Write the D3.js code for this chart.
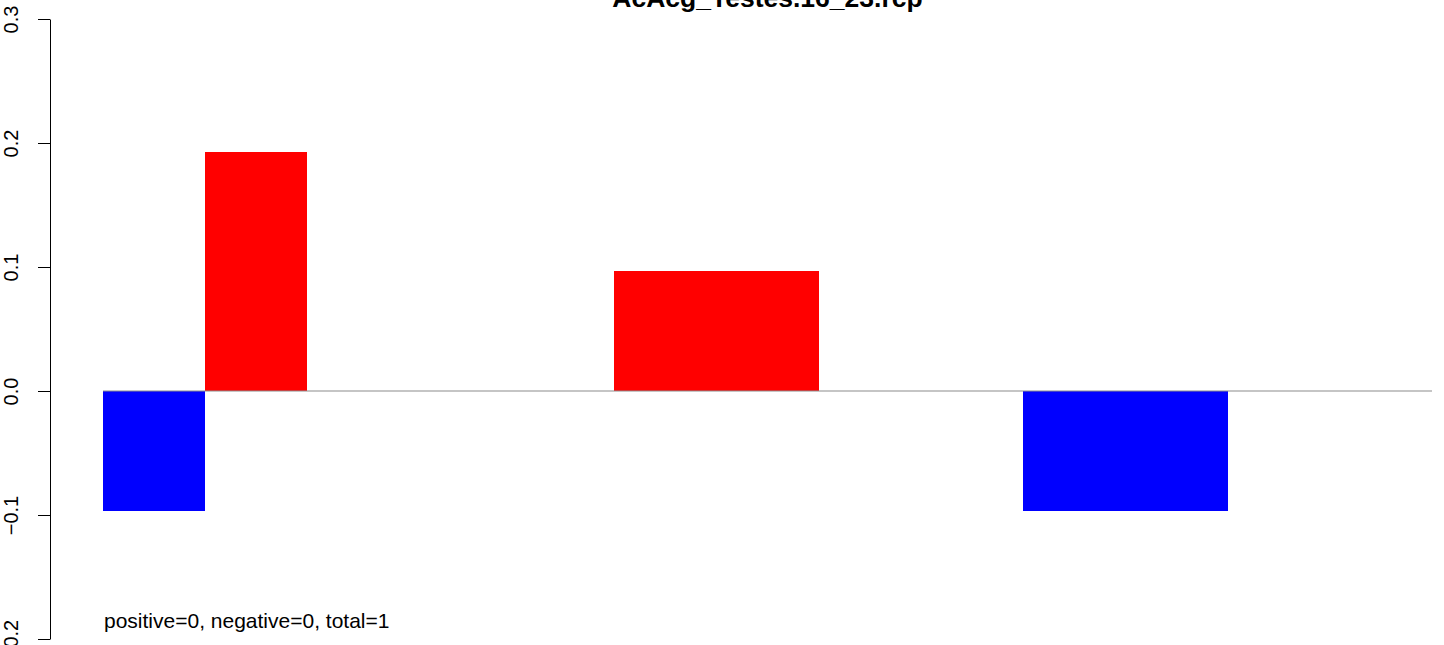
<!DOCTYPE html>
<html>
<head>
<meta charset="utf-8">
<script src="https://cdn.jsdelivr.net/npm/d3@7"></script>
<style>
  body { margin: 0; background: #fff; }
  svg { display: block; font-family: "Liberation Sans", Arial, sans-serif; }
</style>
</head>
<body>
<svg width="1444" height="645"></svg>
<script>
// 13 bar slots, most are zero
const slots = d3.range(13)
const values = [-0.097, 0.193, 0, 0, 0, 0.097, 0.097, 0, 0, -0.097, -0.097, 0, 0]
const yTicks = [-0.2, -0.1, 0.0, 0.1, 0.2, 0.3]
const title = 'AcAcg_Testes.16_23.rcp'
const note = 'positive=0, negative=0, total=1'

const svg = d3.select('svg')

const x = d3.scaleBand().domain(slots).range([103, 1432]).padding(0)
const y = d3.scaleLinear().domain([-0.2, 0.3]).range([639, 19])

// bars
svg.append('g').selectAll('rect').data(values).enter()
  .append('rect')
  .attr('x', (d, i) => x(i))
  .attr('width', x.bandwidth())
  .attr('y', d => y(Math.max(0, d)))
  .attr('height', d => Math.abs(y(d) - y(0)))
  .attr('fill', d => d >= 0 ? '#ff0000' : '#0000ff')
  .attr('shape-rendering', 'crispEdges')

// zero line
svg.append('line')
  .attr('x1', x.range()[0]).attr('x2', x.range()[1])
  .attr('y1', y(0)).attr('y2', y(0))
  .attr('stroke', '#8c8c8c')
  .attr('stroke-width', 1.2)

// y axis
const yAxis = d3.axisLeft(y).tickValues(yTicks).tickSize(12).tickSizeOuter(0)
  .tickFormat(d3.format('.1f'))
const yAxisGroup = svg.append('g').attr('transform', 'translate(50,0)').call(yAxis)
yAxisGroup.select('.domain').attr('stroke', '#000')
yAxisGroup.selectAll('.tick line').attr('stroke', '#000')
yAxisGroup.selectAll('.tick text')
  .attr('x', 0).attr('y', 0).attr('dy', 0)
  .attr('transform', 'translate(-32,0) rotate(-90)')
  .attr('text-anchor', 'middle')
  .attr('font-size', 20)
  .attr('fill', '#000')
  .style('font-family', '"Liberation Sans", Arial, sans-serif')

// title
svg.append('text')
  .attr('x', (x.range()[0] + x.range()[1]) / 2)
  .attr('y', 7)
  .attr('text-anchor', 'middle')
  .attr('font-size', 26.5)
  .attr('font-weight', 'bold')
  .text(title)

// footnote
svg.append('text')
  .attr('x', 104)
  .attr('y', 628)
  .attr('font-size', 21)
  .text(note)
</script>
</body>
</html>
